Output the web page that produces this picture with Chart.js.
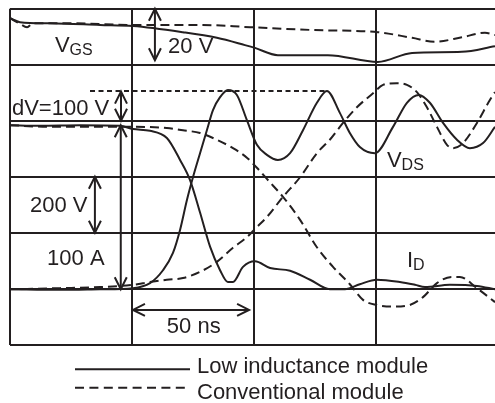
<!DOCTYPE html>
<html>
<head>
<meta charset="utf-8">
<script src="https://cdn.jsdelivr.net/npm/chart.js@4.4.0/dist/chart.umd.min.js"></script>
<style>
    html, body { margin: 0; padding: 0; background: #fff; }
    #wrap { width: 495px; height: 403px; }
</style>
</head>
<body>
<div id="wrap"><canvas id="scope" width="495" height="403"></canvas></div>
<script>
// x in ns (50 ns / div), y in screen divisions (0 = bottom grid line)
const idLowX = [0, 12.3, 28.7, 45.1, 50.4, 57.4, 64.3, 69.7, 73.8, 77.9, 82.0, 86.1, 89.3, 91.4, 95.5, 100.4, 106.6, 114.8, 123.0, 131.1, 137.3, 143.4, 150.4, 159.8, 166.0, 170.1, 180.3, 191.4, 198.8];
const idLowY = [3.92, 3.91, 3.92, 3.91, 3.85, 3.82, 3.69, 3.30, 2.94, 2.36, 1.75, 1.33, 1.12, 1.12, 1.39, 1.49, 1.37, 1.32, 1.16, 0.99, 0.99, 1.08, 1.16, 1.12, 1.07, 1.03, 1.07, 1.05, 0.99];

const idConvX = [0, 16.4, 36.9, 50.4, 64.3, 70.9, 77.9, 84.8, 91.4, 97.1, 101.2, 105.3, 111.9, 118.9, 125.8, 132.4, 139.3, 144.7, 150.4, 157.0, 163.9, 169.3, 175.0, 181.1, 184.4, 191.4, 198.8];
const idConvY = [3.92, 3.89, 3.89, 3.89, 3.87, 3.83, 3.78, 3.66, 3.51, 3.34, 3.16, 2.96, 2.64, 2.23, 1.74, 1.39, 1.08, 0.80, 0.71, 0.68, 0.71, 0.85, 1.10, 1.21, 1.21, 1.01, 0.76];

const vdsLowX = [0, 20.5, 36.9, 50.4, 57.4, 62.7, 66.8, 69.7, 72.5, 75.0, 77.9, 80.7, 83.2, 86.1, 89.3, 93.0, 97.1, 101.2, 105.3, 109.8, 114.8, 120.1, 125.8, 129.9, 135.2, 139.3, 143.4, 149.6, 157.0, 162.7, 167.6, 172.1, 177.5, 183.2, 188.5, 193.9, 198.8];
const vdsLowY = [0.99, 0.98, 0.99, 1.01, 1.10, 1.33, 1.64, 2.05, 2.58, 2.99, 3.42, 3.83, 4.19, 4.42, 4.55, 4.46, 4.01, 3.57, 3.39, 3.30, 3.42, 3.83, 4.32, 4.53, 4.14, 3.78, 3.53, 3.42, 3.89, 4.32, 4.46, 4.32, 3.96, 3.66, 3.51, 3.60, 3.89];

const vdsConvX = [0, 20.5, 36.9, 50.4, 57.4, 64.3, 70.9, 77.9, 84.8, 91.4, 97.1, 101.2, 105.3, 111.9, 118.9, 125.8, 131.1, 136.5, 142.2, 148.8, 152.9, 158.6, 162.7, 166.8, 170.9, 175.0, 179.1, 181.6, 185.7, 191.4, 196.7, 198.8];
const vdsConvY = [0.99, 1.01, 1.03, 1.07, 1.12, 1.16, 1.19, 1.30, 1.48, 1.73, 1.92, 2.10, 2.28, 2.64, 2.99, 3.42, 3.66, 3.96, 4.24, 4.49, 4.64, 4.67, 4.64, 4.51, 4.24, 3.89, 3.57, 3.51, 3.60, 3.96, 4.37, 4.51];

const vgsLowX = [0, 4.1, 16.4, 36.9, 50.4, 70.9, 84.8, 96.3, 100.4, 109.8, 130.3, 150.8, 164.8, 185.2, 198.8];
const vgsLowY = [5.83, 5.76, 5.74, 5.71, 5.69, 5.58, 5.48, 5.35, 5.30, 5.17, 5.17, 5.05, 5.21, 5.23, 5.33];

const vgsConvX = [0, 4.1, 7.0, 9.4, 23.4, 50.4, 77.9, 98.4, 123.8, 150.8, 164.8, 174.2, 185.2, 194.7, 198.8];
const vgsConvY = [5.83, 5.73, 5.67, 5.74, 5.74, 5.71, 5.71, 5.67, 5.62, 5.58, 5.48, 5.41, 5.49, 5.57, 5.53];

// dashed reference line through the two overshoot peaks
const peakLineX = [32.8, 129.9];
const peakLineY = [4.53, 4.53];

const xTicks = [0, 50, 100, 150];
const yTicks = [0, 1, 2, 3, 4, 5, 6];

// double arrows: [x1, y1, x2, y2]
const arrows = [
    [59.4, 6.0, 59.4, 5.08],
    [45.5, 4.52, 45.5, 4.0],
    [45.4, 3.92, 45.4, 0.99],
    [34.8, 3.0, 34.8, 2.0],
    [50.4, 0.62, 98.0, 0.62]
];
// labels: [text, subscript, x, y]
const labels = [
    ['V', 'GS', 18.4, 5.23],
    ['20 V', '', 64.8, 5.21],
    ['dV=100 V', '', 0.8, 4.10],
    ['200 V', '', 8.2, 2.37],
    ['100 A', '', 15.2, 1.42],
    ['50 ns', '', 64.3, 0.21],
    ['V', 'DS', 154.5, 3.17],
    ['I', 'D', 162.7, 1.39]
];
const legendNames = ['Low inductance module', 'Conventional module'];

const ink = '#231f20';
const solid = [];
const dashed = [9, 5];

function pts(xs, ys) {
    return xs.map((x, i) => ({ x: x, y: ys[i] }));
}

function series(xs, ys, dash) {
    return {
        data: pts(xs, ys),
        borderColor: ink,
        borderWidth: 2,
        borderDash: dash,
        pointRadius: 0,
        cubicInterpolationMode: 'monotone',
        fill: false
    };
}

const annotations = {
    id: 'annotations',
    afterDatasetsDraw(chart) {
        const ctx = chart.ctx;
        const xs = chart.scales.x;
        const ys = chart.scales.y;
        ctx.save();
        ctx.strokeStyle = ink;
        ctx.fillStyle = ink;
        ctx.lineWidth = 2;
        ctx.setLineDash([]);

        arrows.forEach(a => {
            const x1 = xs.getPixelForValue(a[0]), y1 = ys.getPixelForValue(a[1]);
            const x2 = xs.getPixelForValue(a[2]), y2 = ys.getPixelForValue(a[3]);
            const ang = Math.atan2(y2 - y1, x2 - x1);
            ctx.beginPath();
            ctx.moveTo(x1, y1);
            ctx.lineTo(x2, y2);
            ctx.stroke();
            [[x1, y1, ang], [x2, y2, ang + Math.PI]].forEach(h => {
                const len = 12, half = 6;
                const bx = h[0] + Math.cos(h[2]) * len, by = h[1] + Math.sin(h[2]) * len;
                const nx = -Math.sin(h[2]) * half, ny = Math.cos(h[2]) * half;
                ctx.beginPath();
                ctx.moveTo(bx + nx, by + ny);
                ctx.lineTo(h[0], h[1]);
                ctx.lineTo(bx - nx, by - ny);
                ctx.stroke();
            });
        });

        ctx.textBaseline = 'alphabetic';
        labels.forEach(l => {
            const px = xs.getPixelForValue(l[2]);
            const py = ys.getPixelForValue(l[3]);
            ctx.font = '22px "Liberation Sans", Arial, sans-serif';
            ctx.fillText(l[0], px, py);
            if (l[1]) {
                const w = ctx.measureText(l[0]).width;
                ctx.font = '16px "Liberation Sans", Arial, sans-serif';
                ctx.fillText(l[1], px + w, py + 3);
            }
        });

        // legend under the plot: sample lines and their names
        const left = chart.chartArea.left + 65;
        const top = chart.chartArea.bottom;
        const lineY = [24.5, 43];
        const textY = [28, 54];
        legendNames.forEach((name, i) => {
            ctx.setLineDash(i === 0 ? [] : [9, 5.4]);
            ctx.beginPath();
            ctx.moveTo(left, top + lineY[i]);
            ctx.lineTo(left + 115, top + lineY[i]);
            ctx.stroke();
            ctx.setLineDash([]);
            ctx.font = '22px "Liberation Sans", Arial, sans-serif';
            ctx.fillText(name, left + 122, top + textY[i]);
        });
        ctx.restore();
    }
};

const gridOpts = { color: ink, lineWidth: 2, drawTicks: false };

new Chart(document.getElementById('scope'), {
    type: 'line',
    data: {
        datasets: [
            series(idLowX, idLowY, solid),
            series(idConvX, idConvY, dashed),
            series(vdsLowX, vdsLowY, solid),
            series(vdsConvX, vdsConvY, dashed),
            series(vgsLowX, vgsLowY, solid),
            series(vgsConvX, vgsConvY, dashed),
            Object.assign(series(peakLineX, peakLineY, [5, 3.5]), { cubicInterpolationMode: 'default', tension: 0 })
        ]
    },
    options: {
        responsive: false,
        animation: false,
        devicePixelRatio: 1,
        layout: { padding: { left: 10, top: 8.7, right: 0, bottom: 58.3 } },
        plugins: { legend: { display: false }, tooltip: { enabled: false } },
        scales: {
            x: {
                type: 'linear',
                min: 0,
                max: 198.8,
                grid: gridOpts,
                border: { display: false },
                ticks: { display: false },
                afterBuildTicks: s => { s.ticks = xTicks.map(v => ({ value: v })); }
            },
            y: {
                type: 'linear',
                min: 0,
                max: 6,
                grid: gridOpts,
                border: { display: false },
                ticks: { display: false },
                afterBuildTicks: s => { s.ticks = yTicks.map(v => ({ value: v })); }
            }
        }
    },
    plugins: [annotations]
});
</script>
</body>
</html>
